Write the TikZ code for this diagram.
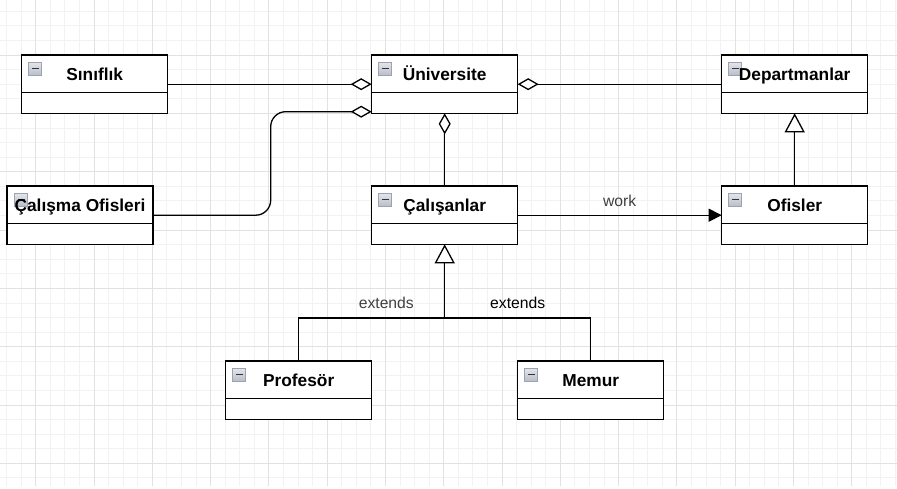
\documentclass[tikz,border=0pt]{standalone}
\usepackage{fontspec}
\setmainfont{Liberation Sans}
\usetikzlibrary{arrows.meta,positioning}
\definecolor{gridminor}{HTML}{F2F2F2}
\definecolor{gridmajor}{HTML}{E2E2E2}
\definecolor{iconedge}{HTML}{9AA2B3}
\definecolor{iconlight}{HTML}{E4E6EA}
\definecolor{icondark}{HTML}{B9BEC7}
\definecolor{lblgray}{HTML}{404040}

\begin{document}
\begin{tikzpicture}[
    x=1pt, y=1pt,
    node distance=72.7pt and 204pt,
    cls/.style={draw, line width=1.3pt, fill=white, minimum width=146pt, minimum height=58.3pt,
        inner xsep=2pt, inner ysep=0pt, outer sep=0pt, text height=25pt, text depth=33.3pt,
        font=\bfseries\fontsize{17.3}{20}\selectfont,
        path picture={
            \draw[line width=1.3pt] ([yshift=-37.7pt]path picture bounding box.north west) -- ([yshift=-37.7pt]path picture bounding box.north east);
            \draw[icon] ([shift={(7pt,-7pt)}]path picture bounding box.north west) rectangle ++(13pt,-13pt);
            \draw[line width=1.6pt, black!80] ([shift={(10.5pt,-13.6pt)}]path picture bounding box.north west) -- ++(7pt,0);
        }},
    icon/.style={draw=iconedge, line width=0.8pt, top color=iconlight, bottom color=icondark},
    line/.style={line width=1.3pt},
    aggr/.style={line, {Diamond[fill=white, length=21pt, width=12pt]}-},
    inherit/.style={line, -{Triangle[fill=white, length=19pt, width=20pt]}},
    assoc/.style={line, -{Triangle[length=13pt, width=13pt]}},
    lbl/.style={inner sep=0pt, font=\fontsize{15.7}{18}\selectfont, text=lblgray}
]

% background grid
\useasboundingbox (0,0) rectangle (897,-489);
\fill[white] (0,0) rectangle (897,-489);
\foreach \i in {0,...,61} {
    \pgfmathsetmacro\gx{6.56+14.572*\i}
    \draw[gridminor, line width=0.8pt] (\gx,0) -- (\gx,-486);
}
\foreach \j in {0,...,32} {
    \pgfmathsetmacro\gy{-11.3-14.58*\j}
    \draw[gridminor, line width=0.8pt] (0,\gy) -- (897,\gy);
}
\foreach \i in {2,6,...,58} {
    \pgfmathsetmacro\gx{6.56+14.572*\i}
    \draw[gridmajor, line width=0.8pt] (\gx,0) -- (\gx,-486);
}
\foreach \j in {3,7,...,31} {
    \pgfmathsetmacro\gy{-11.3-14.58*\j}
    \draw[gridmajor, line width=0.8pt] (0,\gy) -- (897,\gy);
}

% classes
\node[cls] (univ) at (444.7,-84.2) {Üniversite};
\node[cls, left=of univ] (sinif) {Sınıflık};
\node[cls, right=of univ] (dept) {Departmanlar};
\node[cls, below=of univ] (calisan) {Çalışanlar};
\node[cls, right=of calisan] (ofis) {Ofisler};
\node[cls, left=218.7pt of calisan] (calofis) {Çalışma Ofisleri};
\node[cls, below left=116.7pt and 0pt of calisan] (prof) {Profesör};
\node[cls, below right=116.7pt and 0pt of calisan] (memur) {Memur};
\coordinate[below=73.7pt of calisan.south] (join);

% relations
\draw[aggr] (univ) -- (sinif);
\draw[aggr, rounded corners=15pt] ([yshift=-27.5pt]univ.west) -- ++(-101,0) |- (calofis.east);
\draw[aggr] (univ) -- (dept);
\draw[aggr] (univ) -- (calisan);
\draw[assoc] (calisan) -- node[lbl, above=7.5pt] {work} (ofis);
\draw[inherit] (ofis) -- (dept);
\draw[inherit] (prof.north) |- node[lbl, pos=0.8, above=8.5pt] {extends} (join) -- (calisan.south);
\draw[line] (memur.north) |- node[lbl, pos=0.75, above=8.5pt, text=black] {extends} (join);
\end{tikzpicture}
\end{document}
